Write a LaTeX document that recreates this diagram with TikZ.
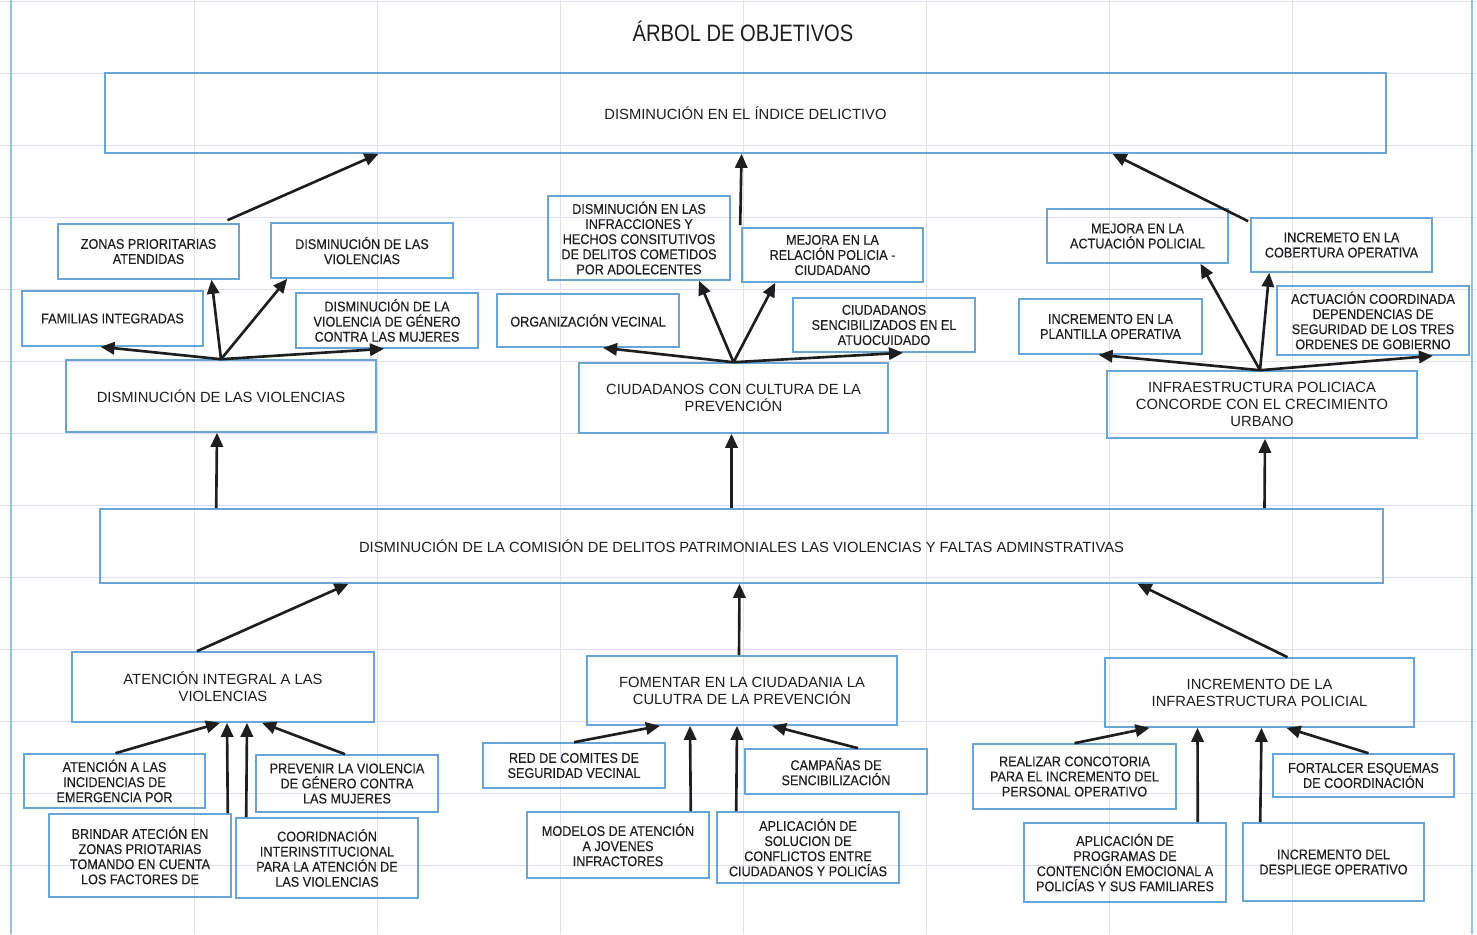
\documentclass[tikz,border=0pt]{standalone}
\usepackage{fontspec}
\setmainfont{Liberation Sans}
\newfontfamily\boxfont[FakeStretch=0.9, FakeBold=0.3]{Liberation Sans}
\newfontfamily\titlefont[FakeStretch=0.85]{Liberation Sans}
\usepackage{tikz}
\usetikzlibrary{arrows.meta, calc}

\definecolor{boxblue}{RGB}{105,165,215}
\definecolor{gridc}{RGB}{230,222,238}
\definecolor{inkc}{RGB}{30,30,30}

\tikzset{
  box/.style={draw=boxblue, line width=0.9pt, align=center, inner sep=0pt, text=inkc, font=\boxfont\fontsize{8}{8.6}\selectfont},
  bigbox/.style={box, font=\fontsize{8.4}{9.6}\selectfont},
  sz/.style 2 args={minimum width=#1*0.02cm, minimum height=#2*0.02cm},
  arr/.style={-{Triangle[length=8pt,width=7pt]}, line width=1.5pt, draw=inkc},
}

\begin{document}
\begin{tikzpicture}[x=0.02cm, y=-0.02cm]
    \useasboundingbox (0,0) rectangle (1477,934);

    % Grid of the sheet
    \foreach \gy in {1,73,...,937} \draw[gridc, line width=0.5pt] (0,\gy) -- (1477,\gy);
    \foreach \gx in {194,377,...,1300} \draw[gridc, line width=0.5pt] (\gx,0) -- (\gx,934);
    \draw[boxblue!70, line width=0.8pt] (11,0) -- (11,934) (1472,0) -- (1472,934);

    % Title and main goal
    \node[font=\titlefont\fontsize{13.5}{16}\selectfont, text=inkc] (title) at (743,31) {ÁRBOL DE OBJETIVOS};
    \node[bigbox, sz={1281}{80}] (top) at (745.5,113) {DISMINUCIÓN EN EL ÍNDICE DELICTIVO};

    % Left branch (ends)
    \node[box, sz={181}{55}] (zona) at (148.5,251.5) {ZONAS PRIORITARIAS\\ATENDIDAS};
    \node[box, sz={182}{55}] (dlv) at (362,250.5) {DISMINUCIÓN DE LAS\\VIOLENCIAS};
    \node[box, sz={181}{55}] (fam) at (112.5,318.5) {FAMILIAS INTEGRADAS};
    \node[box, sz={182}{55}] (dvg) at (387,320.5) {DISMINUCIÓN DE LA\\VIOLENCIA DE GÉNERO\\CONTRA LAS MUJERES};
    \node[bigbox, sz={310}{72}] (dv) at (221,396) {DISMINUCIÓN DE LAS VIOLENCIAS};

    % Middle branch (ends)
    \node[box, sz={182}{84}] (dinf) at (639,238) {DISMINUCIÓN EN LAS\\INFRACCIONES Y\\HECHOS CONSITUTIVOS\\DE DELITOS COMETIDOS\\POR ADOLECENTES};
    \node[box, sz={181}{54}] (mrp) at (832.5,255) {MEJORA EN LA\\RELACIÓN POLICIA -\\CIUDADANO};
    \node[box, sz={182}{53}] (org) at (588,320.5) {ORGANIZACIÓN VECINAL};
    \node[box, sz={182}{54}] (csa) at (884,325) {CIUDADANOS\\SENCIBILIZADOS EN EL\\ATUOCUIDADO};
    \node[bigbox, sz={309}{70}] (ccp) at (733.5,398) {CIUDADANOS CON CULTURA DE LA\\PREVENCIÓN};

    % Right branch (ends)
    \node[box, sz={181}{54}] (map) at (1137.5,236) {MEJORA EN LA\\ACTUACIÓN POLICIAL};
    \node[box, sz={181}{54}] (icob) at (1341.5,245) {INCREMETO EN LA\\COBERTURA OPERATIVA};
    \node[box, sz={183}{55}] (ipo) at (1110.5,326.5) {INCREMENTO EN LA\\PLANTILLA OPERATIVA};
    \node[box, sz={192}{69}] (acd) at (1373,320.5) {ACTUACIÓN COORDINADA\\DEPENDENCIAS DE\\SEGURIDAD DE LOS TRES\\ORDENES DE GOBIERNO};
    \node[bigbox, sz={310}{67}] (ipc) at (1262,404.5) {INFRAESTRUCTURA POLICIACA\\CONCORDE CON EL CRECIMIENTO\\URBANO};

    % Central problem turned objective
    \node[bigbox, sz={1283}{74}] (mid) at (741.5,546) {DISMINUCIÓN DE LA COMISIÓN DE DELITOS PATRIMONIALES LAS VIOLENCIAS Y FALTAS ADMINSTRATIVAS};

    % Means
    \node[bigbox, sz={302}{70}] (aiv) at (223,687) {ATENCIÓN INTEGRAL A LAS\\VIOLENCIAS};
    \node[bigbox, sz={310}{69}] (fcp) at (742,690.5) {FOMENTAR EN LA CIUDADANIA LA\\CULUTRA DE LA PREVENCIÓN};
    \node[bigbox, sz={309}{69}] (iip) at (1259.5,692.5) {INCREMENTO DE LA\\INFRAESTRUCTURA POLICIAL};

    \node[box, sz={181}{54}] (aie) at (114.5,781) {ATENCIÓN A LAS\\INCIDENCIAS DE\\EMERGENCIA POR};
    \node[box, sz={182}{57}] (pvg) at (347,783.5) {PREVENIR LA VIOLENCIA\\DE GÉNERO CONTRA\\LAS MUJERES};
    \node[box, sz={182}{83}] (baz) at (140,855.5) {BRINDAR ATECIÓN EN\\ZONAS PRIOTARIAS\\TOMANDO EN CUENTA\\LOS FACTORES DE};
    \node[box, sz={182}{80}] (cia) at (327,858) {COORIDNACIÓN\\INTERINSTITUCIONAL\\PARA LA ATENCIÓN DE\\LAS VIOLENCIAS};

    \node[box, sz={182}{45}] (rcs) at (574,765.5) {RED DE COMITES DE\\SEGURIDAD VECINAL};
    \node[box, sz={182}{45}] (cds) at (836,771.5) {CAMPAÑAS DE\\SENCIBILIZACIÓN};
    \node[box, sz={182}{66}] (maj) at (618,845) {MODELOS DE ATENCIÓN\\A JOVENES\\INFRACTORES};
    \node[box, sz={182}{71}] (asc) at (808,847.5) {APLICACIÓN DE\\SOLUCION DE\\CONFLICTOS ENTRE\\CIUDADANOS Y POLICÍAS};

    \node[box, sz={203}{65}] (rcp) at (1074.5,776.5) {REALIZAR CONCOTORIA\\PARA EL INCREMENTO DEL\\PERSONAL OPERATIVO};
    \node[box, sz={181}{43}] (fec) at (1363.5,775.5) {FORTALCER ESQUEMAS\\DE COORDINACIÓN};
    \node[box, sz={202}{79}] (apc) at (1125,862.5) {APLICACIÓN DE\\PROGRAMAS DE\\CONTENCIÓN EMOCIONAL A\\POLICÍAS Y SUS FAMILIARES};
    \node[box, sz={181}{78}] (idd) at (1333.5,862) {INCREMENTO DEL\\DESPLIEGE OPERATIVO};

    % Ends up to main goal
    \draw[arr] ($(zona.north)+(79,-3)$) -- ($(top.south)+(-367,0)$);
    \draw[arr] ($(mrp.north west)+(-1,-2)$) -- ($(top.south)+(-4,0)$);
    \draw[arr] ($(icob.north west)+(-2,4)$) -- ($(top.south)+(367,0)$);

    % Fans of arrows
    \coordinate (hA) at (dv.north);
    \coordinate (hB) at (ccp.north);
    \coordinate (hC) at ($(ipc.north)+(-2,0)$);
    \draw[arr] (hA) -- ($(fam.south)+(-12,0)$);
    \draw[arr] (hA) -- ($(zona.south)+(63,0)$);
    \draw[arr] (hA) -- ($(dlv.south west)+(17,0)$);
    \draw[arr] (hA) -- ($(dvg.south)+(-3,0)$);
    \draw[arr] (hB) -- ($(org.south)+(15,0)$);
    \draw[arr] (hB) -- ($(dinf.south)+(60,0)$);
    \draw[arr] (hB) -- ($(mrp.south west)+(34,0)$);
    \draw[arr] (hB) -- ($(csa.south)+(19,0)$);
    \draw[arr] (hC) -- ($(ipo.south)+(-12,0)$);
    \draw[arr] (hC) -- ($(map.south)+(63,0)$);
    \draw[arr] (hC) -- ($(icob.south west)+(19,0)$);
    \draw[arr] (hC) -- ($(acd.south)+(60,0)$);

    % Central objective up to effects
    \draw[arr] ($(mid.north west)+(117,0)$) -- ($(dv.south)+(-4,0)$);
    \draw[arr] ($(mid.north)+(-10,0)$) -- ($(ccp.south)+(-2,0)$);
    \draw[arr] ($(mid.north)+(523,0)$) -- ($(ipc.south)+(3,0)$);

    % Means up to central objective
    \draw[arr] ($(aiv.north)+(-26,0)$) -- ($(mid.south)+(-393,0)$);
    \draw[arr] ($(fcp.north)+(-3,0)$) -- ($(mid.south)+(-2,0)$);
    \draw[arr] ($(iip.north)+(28,0)$) -- ($(mid.south)+(396,0)$);

    % Actions up to means
    \draw[arr] ($(aie.north)+(1,0)$) -- ($(aiv.south)+(-3,0)$);
    \draw[arr] ($(baz.north east)+(-4,0)$) -- ($(aiv.south)+(4,0)$);
    \draw[arr] ($(cia.north west)+(11,0)$) -- ($(aiv.south)+(24,0)$);
    \draw[arr] ($(pvg.north)+(-2,0)$) -- ($(aiv.south)+(39,0)$);

    \draw[arr] (rcs.north) -- ($(fcp.south)+(-82,0)$);
    \draw[arr] ($(maj.north east)+(-19,0)$) -- ($(fcp.south)+(-52,0)$);
    \draw[arr] ($(asc.north west)+(20,0)$) -- ($(fcp.south)+(-5,0)$);
    \draw[arr] ($(cds.north)+(22,0)$) -- ($(fcp.south)+(30,0)$);

    \draw[arr] (rcp.north) -- ($(iip.south)+(-110,0)$);
    \draw[arr] ($(apc.north east)+(-29,0)$) -- ($(iip.south)+(-62,0)$);
    \draw[arr] ($(idd.north west)+(18,0)$) -- ($(iip.south)+(2,0)$);
    \draw[arr] ($(fec.north)+(5,0)$) -- ($(iip.south)+(27,0)$);
\end{tikzpicture}
\end{document}
